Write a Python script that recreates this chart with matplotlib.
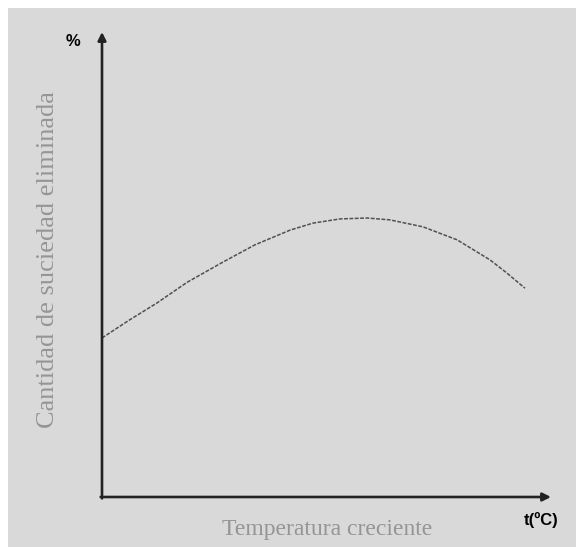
import matplotlib
matplotlib.use("Agg")
import matplotlib.pyplot as plt
from matplotlib.patches import Rectangle

# curve (x: temperature, y: % removed), axis runs 0..100
temp = [0, 6, 12.2, 19, 26.9, 34, 41.9, 47, 53.0, 59.0, 64.1, 71.5, 79.1, 86.4, 90, 94.2]
dirt = [34.2, 38.0, 41.7, 46.2, 50.5, 54.2, 57.4, 58.9, 59.8, 60.0, 59.6, 58.1, 55.3, 51.0, 48.3, 44.9]

ylabel = "Cantidad de suciedad eliminada"
xlabel = "Temperatura creciente"

W, H = 576, 547
fig = plt.figure(figsize=(W / 100, H / 100), dpi=100)
fig.patch.set_facecolor("white")
fig.patches.append(Rectangle((8 / W, 0), 1, 1 - 8 / H, transform=fig.transFigure,
                             facecolor="#d9d9d9", edgecolor="none", zorder=-5))

ax = fig.add_axes([102 / W, 1 - 497 / H, (551 - 102) / W, (497 - 32) / H])
ax.set_zorder(2)
ax.set_xlim(0, 100)
ax.set_ylim(0, 100)
ax.axis("off")

arrow = dict(arrowstyle="-|>", color="#222222", lw=1.9, mutation_scale=12, shrinkA=0, shrinkB=0)
ax.annotate("", xy=(0, 100), xytext=(0, -0.3), arrowprops=arrow)
ax.annotate("", xy=(100, 0), xytext=(-0.3, 0), arrowprops=arrow)

ax.plot(temp, dirt, color="#505050", lw=1.1, ls=(0, (2.5, 1)))

fig.text(73 / W, 1 - 42 / H, "%", fontsize=12, fontweight="bold",
         ha="center", va="center", family="Liberation Sans")
fig.text(541 / W, 1 - 520 / H, "t(ºC)", fontsize=12, fontweight="bold",
         ha="center", va="center", family="Liberation Sans")
fig.text(48 / W, 1 - 260 / H, ylabel, rotation=90, fontsize=19, color="#959595",
         ha="center", va="center", family="Liberation Serif")
fig.text(327 / W, 1 - 530 / H, xlabel, fontsize=17, color="#959595",
         ha="center", va="center", family="Liberation Serif")

fig.savefig("out.png", dpi=100, facecolor=fig.get_facecolor())
